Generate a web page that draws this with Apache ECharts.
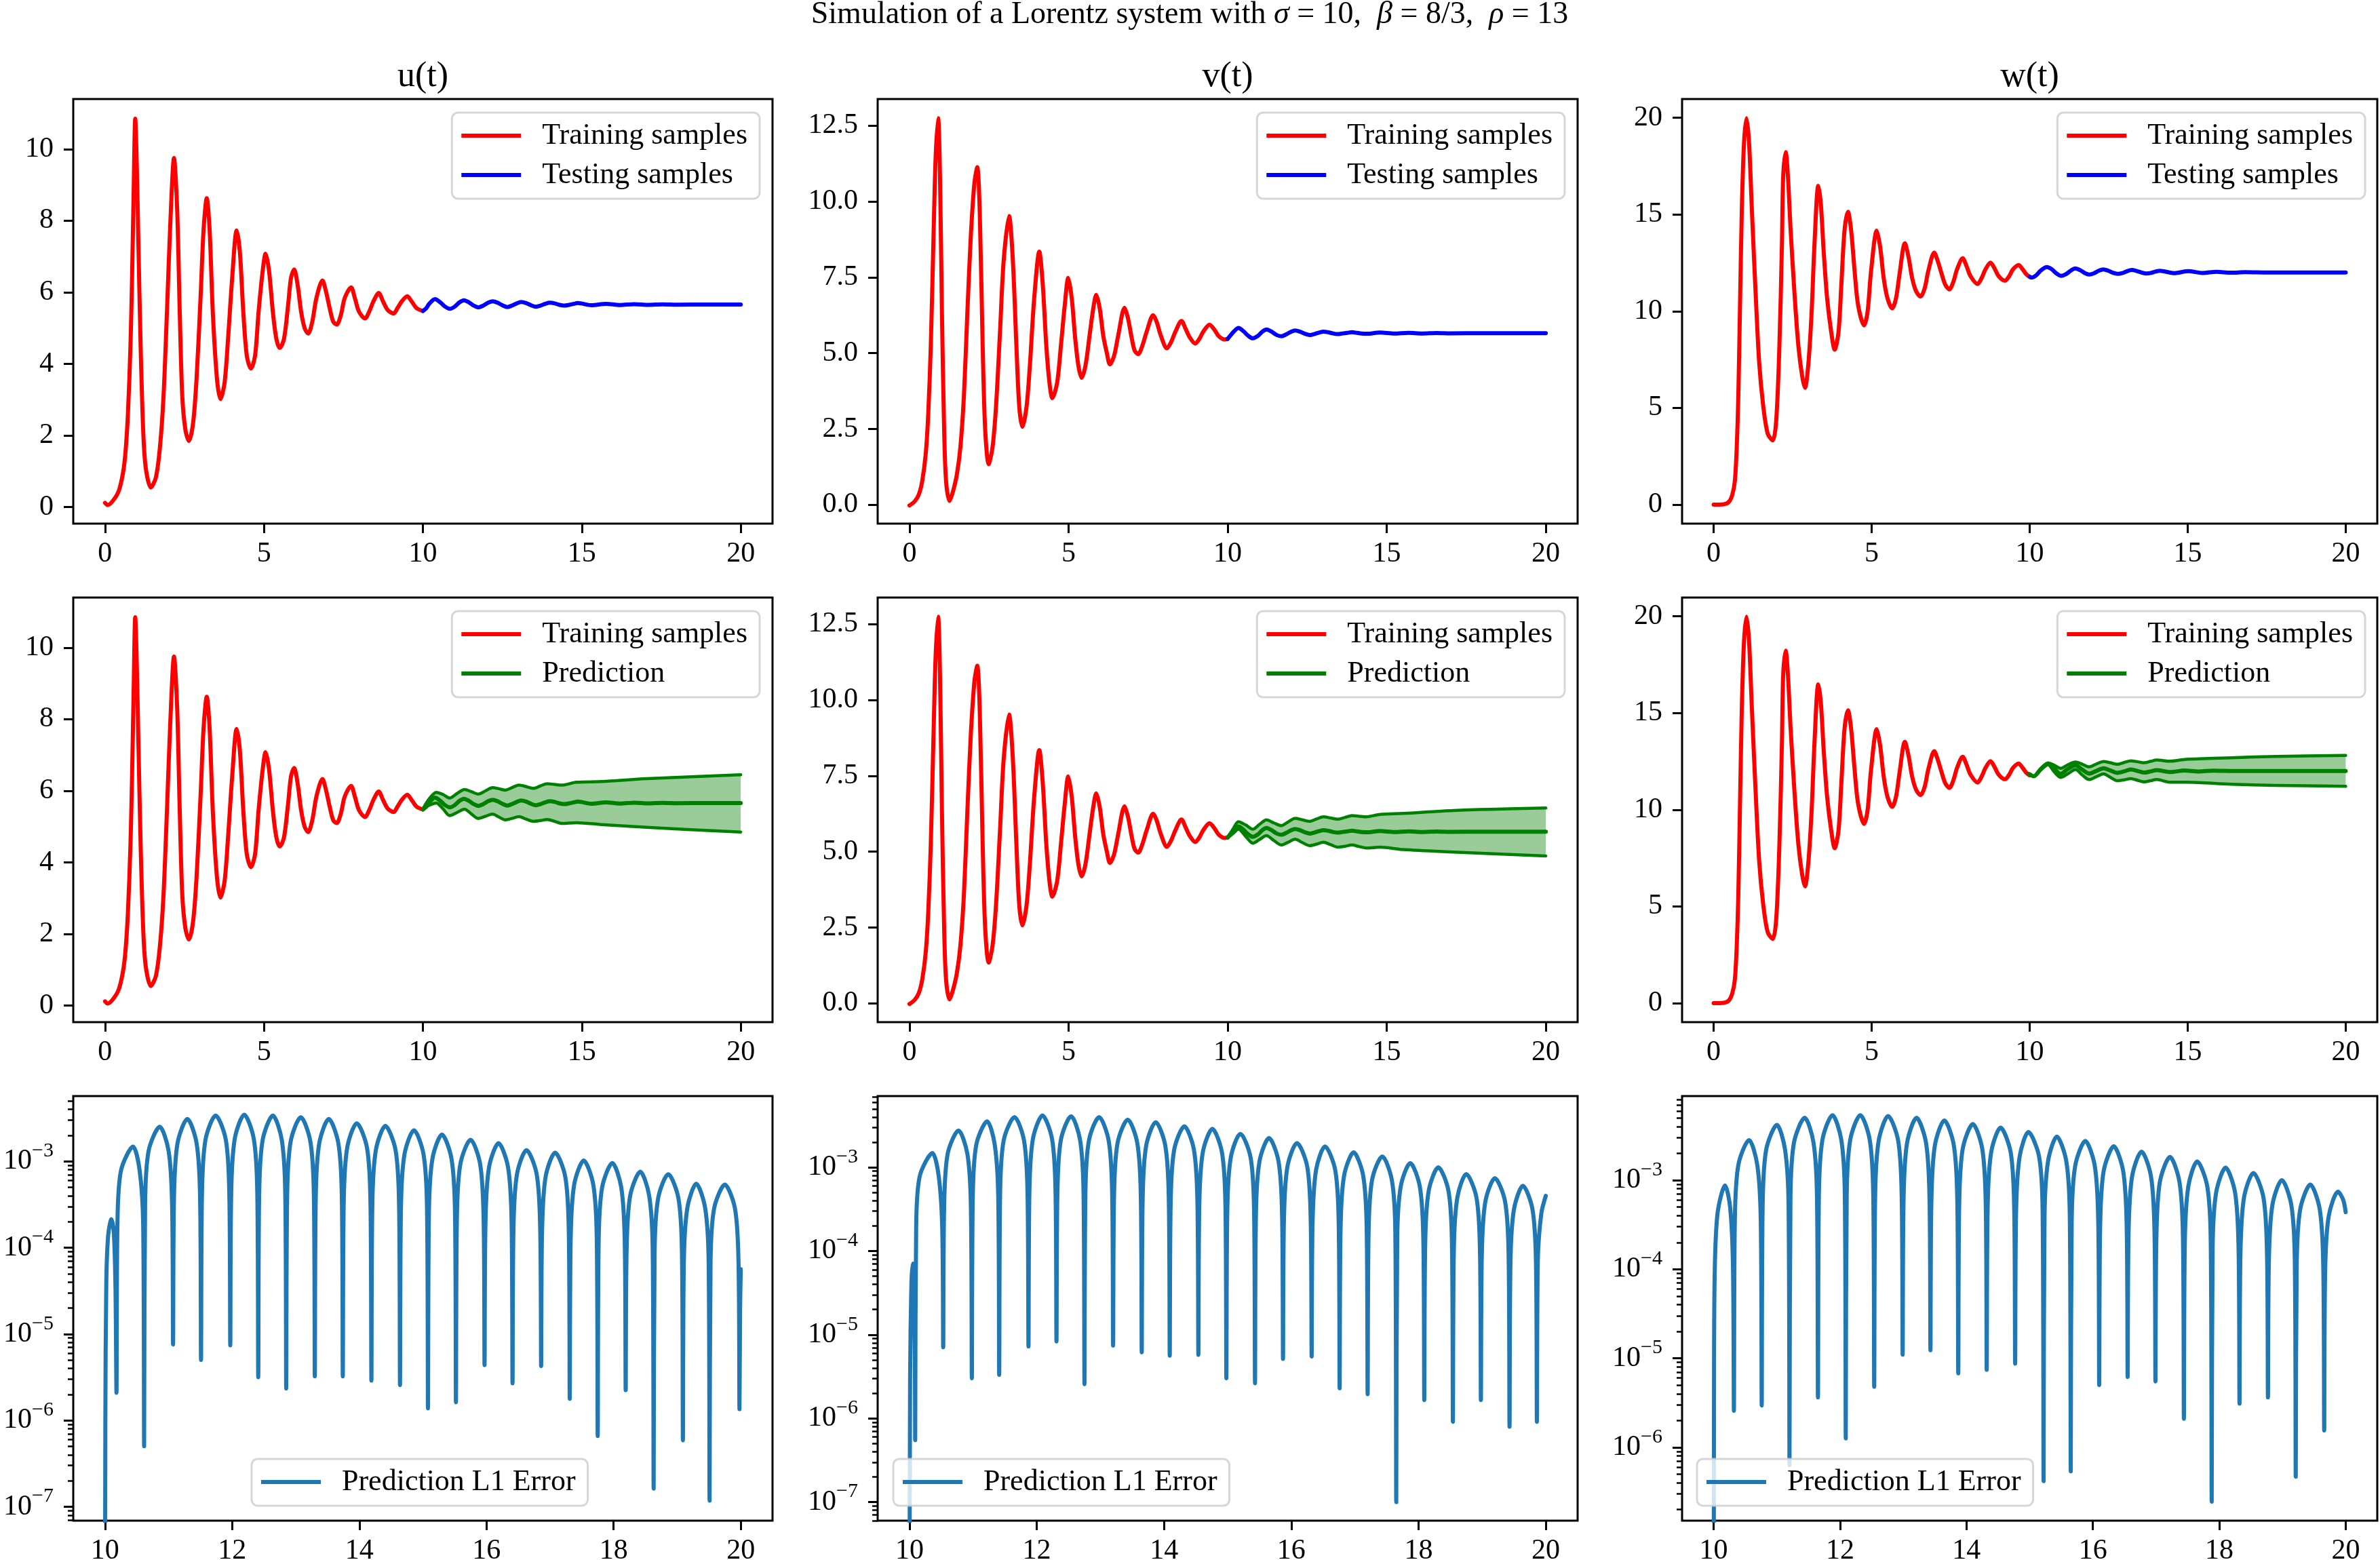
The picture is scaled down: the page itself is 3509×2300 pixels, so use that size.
<!DOCTYPE html>
<html>
<head>
<meta charset="utf-8">
<script src="https://cdn.jsdelivr.net/npm/echarts@6/dist/echarts.min.js"></script>
<style>
  html, body { margin: 0; padding: 0; background: #fff; }
  #main { width: 3509px; height: 2300px; }
</style>
</head>
<body>
<div id="main"></div>
<script>
// ---- data ----
// top / middle rows: [t, value]
var uTrain = [[0,0.12],[0.08,0.06],[0.24,0.17],[0.43,0.45],[0.56,0.93],[0.64,1.5],[0.72,2.6],[0.8,4.5],[0.85,6.4],[0.9,8.8],[0.95,10.85],[1.0,9.5],[1.05,7.35],[1.12,4.5],[1.2,2.15],[1.28,1.1],[1.44,0.55],[1.6,0.83],[1.73,1.7],[1.84,3.1],[1.95,5.5],[2.05,7.85],[2.17,9.75],[2.27,8.3],[2.35,5.45],[2.43,3.1],[2.53,2.15],[2.64,1.85],[2.77,2.35],[2.88,3.6],[3.01,5.95],[3.1,7.75],[3.2,8.63],[3.29,7.75],[3.39,5.45],[3.52,3.6],[3.63,3.02],[3.76,3.47],[3.87,4.7],[4.0,6.4],[4.14,7.73],[4.24,7.15],[4.35,5.45],[4.46,4.23],[4.59,3.87],[4.72,4.23],[4.83,5.45],[4.96,6.6],[5.05,7.08],[5.16,6.6],[5.28,5.45],[5.39,4.7],[5.5,4.45],[5.63,4.7],[5.76,5.65],[5.85,6.4],[5.95,6.64],[6.06,6.2],[6.17,5.45],[6.28,5.0],[6.39,4.85],[6.52,5.18],[6.65,5.84],[6.84,6.33],[6.95,6.03],[7.07,5.55],[7.18,5.18],[7.29,5.1],[7.42,5.37],[7.54,5.84],[7.74,6.14],[7.86,5.84],[7.99,5.46],[8.18,5.27],[8.31,5.46],[8.44,5.74],[8.61,5.98],[8.75,5.74],[8.89,5.51],[9.08,5.41],[9.2,5.56],[9.33,5.74],[9.51,5.89],[9.65,5.74],[9.8,5.56],[10.0,5.48]];
var uTest = [[10.0,5.48],[10.1,5.55],[10.2,5.68],[10.38,5.81],[10.55,5.72],[10.7,5.6],[10.85,5.54],[11.0,5.6],[11.15,5.72],[11.29,5.78],[11.45,5.72],[11.6,5.63],[11.75,5.58],[11.9,5.63],[12.05,5.71],[12.2,5.75],[12.35,5.71],[12.5,5.64],[12.66,5.59],[12.8,5.63],[12.95,5.69],[13.09,5.73],[13.25,5.7],[13.4,5.64],[13.56,5.6],[13.7,5.63],[13.85,5.68],[13.99,5.71],[14.15,5.69],[14.3,5.65],[14.44,5.63],[14.6,5.65],[14.75,5.68],[14.87,5.7],[15.3,5.64],[15.76,5.68],[16.2,5.645],[16.65,5.67],[17.1,5.65],[17.55,5.665],[18.0,5.655],[19.0,5.66],[20.0,5.66]];
var vTrain = [[0,-0.02],[0.16,0.11],[0.29,0.33],[0.4,0.78],[0.51,1.67],[0.59,3.0],[0.67,5.25],[0.75,8.6],[0.82,11.4],[0.9,12.75],[0.96,10.8],[1.02,6.36],[1.09,2.46],[1.15,0.78],[1.26,0.13],[1.37,0.45],[1.49,1.0],[1.6,1.9],[1.71,3.57],[1.82,6.36],[1.93,8.9],[2.04,10.6],[2.13,11.13],[2.21,9.6],[2.3,5.25],[2.38,2.46],[2.49,1.34],[2.61,1.9],[2.72,3.24],[2.85,5.8],[2.96,8.04],[3.13,9.52],[3.25,8.04],[3.36,5.25],[3.45,3.24],[3.55,2.57],[3.68,3.24],[3.79,4.69],[3.92,6.81],[4.08,8.35],[4.19,7.25],[4.3,5.25],[4.4,4.02],[4.49,3.52],[4.64,4.02],[4.76,5.25],[4.88,6.58],[4.99,7.48],[5.1,6.81],[5.21,5.47],[5.31,4.58],[5.41,4.19],[5.53,4.58],[5.66,5.58],[5.76,6.36],[5.87,6.92],[5.98,6.47],[6.09,5.58],[6.2,5.02],[6.3,4.63],[6.43,4.91],[6.56,5.58],[6.76,6.5],[6.87,6.14],[6.99,5.47],[7.08,5.08],[7.19,4.97],[7.32,5.25],[7.45,5.69],[7.66,6.25],[7.77,6.03],[7.9,5.58],[8.09,5.16],[8.22,5.36],[8.35,5.69],[8.55,6.06],[8.68,5.8],[8.81,5.52],[8.98,5.32],[9.11,5.47],[9.24,5.72],[9.43,5.94],[9.58,5.78],[9.72,5.56],[9.91,5.45],[10.0,5.47]];
var vTest = [[10.0,5.47],[10.1,5.6],[10.2,5.72],[10.34,5.83],[10.5,5.72],[10.65,5.57],[10.79,5.49],[10.95,5.57],[11.08,5.7],[11.22,5.78],[11.38,5.71],[11.54,5.6],[11.69,5.56],[11.84,5.62],[11.98,5.7],[12.12,5.75],[12.27,5.71],[12.43,5.64],[12.58,5.6],[12.72,5.63],[12.87,5.68],[13.01,5.71],[13.16,5.69],[13.31,5.65],[13.46,5.63],[13.61,5.65],[13.76,5.67],[13.91,5.69],[14.06,5.67],[14.21,5.65],[14.36,5.64],[14.79,5.68],[15.24,5.645],[15.68,5.67],[16.12,5.65],[16.57,5.665],[17.0,5.655],[18.0,5.66],[20.0,5.66]];
var wTrain = [[0,0],[0.32,0.02],[0.48,0.14],[0.59,0.52],[0.67,1.22],[0.73,2.97],[0.78,5.6],[0.83,9.97],[0.89,15.2],[0.96,18.7],[1.04,19.98],[1.12,18.7],[1.21,15.2],[1.33,10.85],[1.44,7.35],[1.57,5.07],[1.71,3.67],[1.87,3.32],[1.98,4.37],[2.08,8.22],[2.16,13.47],[2.2,16.97],[2.28,18.23],[2.35,16.97],[2.43,14.35],[2.56,10.85],[2.68,8.22],[2.8,6.65],[2.89,6.04],[3.0,7.35],[3.1,9.97],[3.19,13.47],[3.31,16.48],[3.39,15.57],[3.48,13.12],[3.59,10.67],[3.72,8.92],[3.83,8.01],[3.95,8.92],[4.04,11.37],[4.14,14.17],[4.25,15.14],[4.35,14.17],[4.46,12.07],[4.57,10.32],[4.76,9.27],[4.87,9.97],[4.98,12.07],[5.16,14.17],[5.27,13.3],[5.38,11.72],[5.5,10.67],[5.65,10.15],[5.77,10.67],[5.88,11.9],[6.05,13.51],[6.17,12.77],[6.28,11.72],[6.41,11.02],[6.55,10.76],[6.68,11.2],[6.79,12.07],[6.98,13.03],[7.09,12.6],[7.22,11.9],[7.33,11.37],[7.46,11.13],[7.59,11.55],[7.7,12.16],[7.88,12.74],[8.0,12.34],[8.13,11.81],[8.35,11.41],[8.48,11.72],[8.6,12.16],[8.76,12.51],[8.89,12.21],[9.02,11.81],[9.22,11.58],[9.35,11.81],[9.47,12.16],[9.65,12.39],[9.78,12.16],[9.9,11.9],[10.0,11.78]];
var wTest = [[10.0,11.78],[10.06,11.74],[10.2,11.85],[10.35,12.1],[10.54,12.28],[10.7,12.17],[10.85,11.95],[10.99,11.83],[11.15,11.92],[11.3,12.1],[11.44,12.21],[11.6,12.12],[11.75,11.97],[11.88,11.9],[12.03,11.96],[12.18,12.09],[12.33,12.16],[12.48,12.1],[12.63,11.99],[12.78,11.93],[12.93,11.97],[13.08,12.07],[13.23,12.13],[13.39,12.08],[13.54,12.0],[13.69,11.95],[13.84,11.98],[13.98,12.05],[14.12,12.09],[14.58,11.97],[15.02,12.07],[15.47,11.98],[15.92,12.04],[16.37,11.99],[16.82,12.02],[17.5,12.0],[20.0,12.0]];
var wPred = [[9.98,11.85],[10.13,11.73],[10.35,12.1],[10.58,12.37],[10.78,12.12],[10.98,11.85],[11.2,12.1],[11.45,12.3],[11.66,12.08],[11.88,11.87],[12.1,12.0],[12.34,12.14],[12.55,12.03],[12.77,11.91],[13.0,11.99],[13.2,12.08],[13.42,12.0],[13.63,11.92],[13.82,11.98],[14.02,12.05],[14.45,11.95],[14.9,12.03],[15.35,11.98],[15.8,12.02],[16.5,12.0],[20.0,12.0]];

// uncertainty bands (middle row)
var uBandT = [10.0,10.2,10.42,10.63,10.84,11.08,11.31,11.52,11.74,11.97,12.19,12.39,12.59,12.8,13.02,13.25,13.48,13.7,13.91,14.14,14.37,14.83,15.62,17.04,20.0];
var uBandHi = [5.5,5.78,5.96,5.9,5.80,5.93,6.04,5.98,5.91,6.0,6.09,6.06,6.02,6.09,6.16,6.12,6.07,6.14,6.2,6.18,6.16,6.24,6.26,6.34,6.45];
var uBandLo = [5.5,5.6,5.66,5.5,5.31,5.4,5.49,5.36,5.23,5.29,5.35,5.27,5.19,5.23,5.28,5.21,5.15,5.17,5.2,5.15,5.09,5.11,5.06,4.98,4.85];
var vBandT = [10.0,10.17,10.34,10.57,10.79,11.0,11.22,11.45,11.69,11.9,12.12,12.35,12.58,12.8,13.01,13.24,13.46,13.69,13.91,14.13,14.36,14.79,15.51,17.1,20.0];
var vBandHi = [5.45,5.75,5.99,5.88,5.74,5.9,6.05,5.95,5.86,5.98,6.1,6.05,6.0,6.08,6.15,6.11,6.07,6.13,6.19,6.17,6.15,6.23,6.26,6.36,6.44];
var vBandLo = [5.45,5.6,5.74,5.5,5.28,5.4,5.53,5.37,5.22,5.31,5.41,5.3,5.2,5.25,5.31,5.23,5.15,5.18,5.22,5.17,5.12,5.15,5.07,4.99,4.86];
var wBandT = [9.98,10.13,10.35,10.58,10.78,10.98,11.2,11.45,11.66,11.88,12.1,12.34,12.55,12.77,13.0,13.2,13.42,13.63,13.82,14.02,14.45,14.95,16.38,17.82,20.0];
var wBandHi = [11.85,11.74,12.12,12.42,12.3,12.14,12.32,12.47,12.36,12.22,12.36,12.49,12.43,12.35,12.45,12.53,12.48,12.43,12.5,12.57,12.51,12.61,12.69,12.76,12.81];
var wBandLo = [11.85,11.72,12.05,12.33,11.95,11.67,11.85,12.08,11.8,11.56,11.7,11.85,11.68,11.5,11.55,11.61,11.52,11.44,11.5,11.56,11.42,11.42,11.32,11.26,11.21];

// bottom row: [t, log10(L1 error)]
var errU = [[10.0,-9],[10.005,-6.0],[10.02,-4.4],[10.05,-3.85],[10.1,-3.67],[10.14,-3.85],[10.165,-4.5],[10.18,-5.68],
  [10.195,-3.73],[10.25,-3.11],[10.44,-2.83],[10.545,-3.11],[10.6,-3.73],[10.615,-6.30],
  [10.63,-3.50],[10.685,-2.88],[10.86,-2.60],[11.0,-2.88],[11.055,-3.50],[11.07,-5.12],
  [11.085,-3.41],[11.14,-2.79],[11.295,-2.51],[11.44,-2.79],[11.495,-3.41],[11.51,-5.30],
  [11.525,-3.37],[11.58,-2.75],[11.74,-2.47],[11.9,-2.75],[11.955,-3.37],[11.97,-5.13],
  [11.985,-3.36],[12.04,-2.74],[12.19,-2.46],[12.34,-2.74],[12.395,-3.36],[12.41,-5.50],
  [12.425,-3.37],[12.48,-2.75],[12.64,-2.47],[12.78,-2.75],[12.835,-3.37],[12.85,-5.63],
  [12.865,-3.39],[12.92,-2.77],[13.08,-2.49],[13.23,-2.77],[13.285,-3.39],[13.30,-5.49],
  [13.315,-3.41],[13.37,-2.79],[13.52,-2.51],[13.67,-2.79],[13.725,-3.41],[13.74,-5.49],
  [13.755,-3.46],[13.81,-2.84],[13.96,-2.56],[14.12,-2.84],[14.175,-3.46],[14.19,-5.54],
  [14.205,-3.49],[14.26,-2.87],[14.41,-2.59],[14.57,-2.87],[14.625,-3.49],[14.64,-5.59],
  [14.655,-3.54],[14.71,-2.92],[14.86,-2.64],[15.01,-2.92],[15.065,-3.54],[15.08,-5.86],
  [15.095,-3.59],[15.15,-2.97],[15.30,-2.69],[15.45,-2.97],[15.505,-3.59],[15.52,-5.79],
  [15.535,-3.65],[15.59,-3.03],[15.75,-2.75],[15.90,-3.03],[15.955,-3.65],[15.97,-5.36],
  [15.985,-3.69],[16.04,-3.07],[16.19,-2.79],[16.34,-3.07],[16.395,-3.69],[16.41,-5.57],
  [16.425,-3.77],[16.48,-3.15],[16.63,-2.87],[16.79,-3.15],[16.845,-3.77],[16.86,-5.37],
  [16.875,-3.80],[16.93,-3.18],[17.08,-2.90],[17.24,-3.18],[17.295,-3.80],[17.31,-5.75],
  [17.325,-3.89],[17.38,-3.27],[17.53,-2.99],[17.68,-3.27],[17.735,-3.89],[17.75,-6.18],
  [17.765,-3.92],[17.82,-3.30],[17.98,-3.02],[18.12,-3.30],[18.175,-3.92],[18.19,-5.65],
  [18.205,-4.02],[18.26,-3.40],[18.42,-3.12],[18.56,-3.40],[18.615,-4.02],[18.63,-6.79],
  [18.645,-4.05],[18.70,-3.43],[18.86,-3.15],[19.02,-3.43],[19.075,-4.05],[19.09,-6.23],
  [19.105,-4.16],[19.16,-3.54],[19.30,-3.26],[19.44,-3.54],[19.495,-4.16],[19.51,-6.93],
  [19.525,-4.17],[19.58,-3.55],[19.75,-3.27],[19.91,-3.55],[19.965,-4.17],[19.98,-5.87],
  [19.99,-4.7],[20.0,-4.25]];
var errV = [[10.0,-9],[10.01,-5.5],[10.03,-4.4],[10.05,-4.15],[10.07,-4.5],[10.085,-5.3],[10.09,-6.26],
  [10.105,-3.73],[10.16,-3.11],[10.36,-2.83],[10.46,-3.11],[10.515,-3.73],[10.53,-5.15],
  [10.545,-3.46],[10.60,-2.84],[10.77,-2.56],[10.91,-2.84],[10.965,-3.46],[10.98,-5.52],
  [10.995,-3.35],[11.05,-2.73],[11.22,-2.45],[11.34,-2.73],[11.395,-3.35],[11.41,-5.48],
  [11.425,-3.30],[11.48,-2.68],[11.65,-2.40],[11.80,-2.68],[11.855,-3.30],[11.87,-5.14],
  [11.885,-3.28],[11.94,-2.66],[12.09,-2.38],[12.24,-2.66],[12.295,-3.28],[12.31,-5.08],
  [12.325,-3.29],[12.38,-2.67],[12.54,-2.39],[12.68,-2.67],[12.735,-3.29],[12.75,-5.59],
  [12.765,-3.30],[12.82,-2.68],[12.98,-2.40],[13.13,-2.68],[13.185,-3.30],[13.20,-5.13],
  [13.215,-3.33],[13.27,-2.71],[13.43,-2.43],[13.58,-2.71],[13.635,-3.33],[13.65,-5.21],
  [13.665,-3.36],[13.72,-2.74],[13.87,-2.46],[14.02,-2.74],[14.075,-3.36],[14.09,-5.25],
  [14.105,-3.41],[14.16,-2.79],[14.32,-2.51],[14.47,-2.79],[14.525,-3.41],[14.54,-5.24],
  [14.555,-3.44],[14.61,-2.82],[14.76,-2.54],[14.91,-2.82],[14.965,-3.44],[14.98,-5.52],
  [14.995,-3.50],[15.05,-2.88],[15.20,-2.60],[15.36,-2.88],[15.415,-3.50],[15.43,-5.58],
  [15.445,-3.55],[15.50,-2.93],[15.65,-2.65],[15.80,-2.93],[15.855,-3.55],[15.87,-5.29],
  [15.885,-3.61],[15.94,-2.99],[16.09,-2.71],[16.25,-2.99],[16.305,-3.61],[16.32,-5.26],
  [16.335,-3.65],[16.39,-3.03],[16.53,-2.75],[16.69,-3.03],[16.745,-3.65],[16.76,-5.64],
  [16.775,-3.72],[16.83,-3.10],[16.98,-2.82],[17.13,-3.10],[17.185,-3.72],[17.20,-5.71],
  [17.215,-3.77],[17.27,-3.15],[17.43,-2.87],[17.58,-3.15],[17.635,-3.77],[17.65,-7.0],
  [17.665,-3.85],[17.72,-3.23],[17.87,-2.95],[18.02,-3.23],[18.075,-3.85],[18.09,-5.78],
  [18.105,-3.90],[18.16,-3.28],[18.31,-3.00],[18.47,-3.28],[18.525,-3.90],[18.54,-6.04],
  [18.555,-3.98],[18.61,-3.36],[18.75,-3.08],[18.91,-3.36],[18.965,-3.98],[18.98,-5.78],
  [18.995,-4.03],[19.05,-3.41],[19.20,-3.13],[19.36,-3.41],[19.415,-4.03],[19.43,-6.10],
  [19.445,-4.12],[19.50,-3.50],[19.64,-3.22],[19.79,-3.50],[19.845,-4.12],[19.86,-6.04],
  [19.875,-4.1],[19.93,-3.55],[20.0,-3.34]];
var errW = [[10.0,-9],[10.005,-5.5],[10.015,-4.1],[10.06,-3.38],[10.18,-3.06],[10.26,-3.3],[10.305,-3.95],[10.32,-5.59],
  [10.335,-3.45],[10.39,-2.83],[10.56,-2.55],[10.69,-2.83],[10.745,-3.45],[10.76,-5.53],
  [10.775,-3.28],[10.83,-2.66],[11.00,-2.38],[11.13,-2.66],[11.185,-3.28],[11.20,-6.2],
  [11.215,-3.20],[11.27,-2.58],[11.44,-2.30],[11.58,-2.58],[11.635,-3.20],[11.65,-5.44],
  [11.665,-3.17],[11.72,-2.55],[11.88,-2.27],[12.02,-2.55],[12.075,-3.17],[12.09,-5.90],
  [12.105,-3.17],[12.16,-2.55],[12.32,-2.27],[12.47,-2.55],[12.525,-3.17],[12.54,-5.32],
  [12.555,-3.18],[12.61,-2.56],[12.76,-2.28],[12.92,-2.56],[12.975,-3.18],[12.99,-4.96],
  [13.005,-3.20],[13.06,-2.58],[13.21,-2.30],[13.36,-2.58],[13.415,-3.20],[13.43,-4.91],
  [13.445,-3.23],[13.50,-2.61],[13.65,-2.33],[13.80,-2.61],[13.855,-3.23],[13.87,-5.17],
  [13.885,-3.27],[13.94,-2.65],[14.10,-2.37],[14.25,-2.65],[14.305,-3.27],[14.32,-5.13],
  [14.335,-3.31],[14.39,-2.69],[14.54,-2.41],[14.70,-2.69],[14.755,-3.31],[14.77,-5.06],
  [14.785,-3.36],[14.84,-2.74],[14.98,-2.46],[15.15,-2.74],[15.205,-3.36],[15.22,-6.38],
  [15.235,-3.41],[15.29,-2.79],[15.43,-2.51],[15.58,-2.79],[15.635,-3.41],[15.65,-6.27],
  [15.665,-3.46],[15.72,-2.84],[15.88,-2.56],[16.03,-2.84],[16.085,-3.46],[16.10,-5.30],
  [16.115,-3.52],[16.17,-2.90],[16.33,-2.62],[16.48,-2.90],[16.535,-3.52],[16.55,-5.21],
  [16.565,-3.58],[16.62,-2.96],[16.77,-2.68],[16.92,-2.96],[16.975,-3.58],[16.99,-5.26],
  [17.005,-3.64],[17.06,-3.02],[17.22,-2.74],[17.37,-3.02],[17.425,-3.64],[17.44,-5.68],
  [17.455,-3.69],[17.51,-3.07],[17.65,-2.79],[17.81,-3.07],[17.865,-3.69],[17.88,-6.61],
  [17.895,-3.76],[17.95,-3.14],[18.10,-2.86],[18.25,-3.14],[18.305,-3.76],[18.32,-5.51],
  [18.335,-3.82],[18.39,-3.20],[18.54,-2.92],[18.70,-3.20],[18.755,-3.82],[18.77,-5.44],
  [18.785,-3.90],[18.84,-3.28],[18.99,-3.00],[19.14,-3.28],[19.195,-3.90],[19.21,-6.33],
  [19.225,-3.95],[19.28,-3.33],[19.44,-3.05],[19.59,-3.33],[19.645,-3.95],[19.66,-5.81],
  [19.675,-4.03],[19.73,-3.41],[19.88,-3.13],[19.96,-3.22],[20.0,-3.36]];

// ticks
var xTicks = [0, 5, 10, 15, 20];
var xTicksErr = [10, 12, 14, 16, 18, 20];
var yTicksU = [0, 2, 4, 6, 8, 10];
var yTicksV = [0, 2.5, 5, 7.5, 10, 12.5];
var yTicksW = [0, 5, 10, 15, 20];
var logMajor = [1e-7, 1e-6, 1e-5, 1e-4, 1e-3];
var logMinor = [2e-8,3e-8,4e-8,5e-8,6e-8,7e-8,8e-8,9e-8,2e-7,3e-7,4e-7,5e-7,6e-7,7e-7,8e-7,9e-7,
  2e-6,3e-6,4e-6,5e-6,6e-6,7e-6,8e-6,9e-6,2e-5,3e-5,4e-5,5e-5,6e-5,7e-5,8e-5,9e-5,
  2e-4,3e-4,4e-4,5e-4,6e-4,7e-4,8e-4,9e-4,2e-3,3e-3,4e-3,5e-3,6e-3,7e-3,8e-3,9e-3];

// ---- layout ----
var FONT = '"Liberation Serif", "Times New Roman", serif';
var GRID_LEFT = [108, 1294, 2480];
var GRID_WIDTH = [1031, 1032, 1025];
var GRID_TOP = [146, 881, 1616];
var GRID_HEIGHT = 626;
var Y_RANGE = [[-0.46, 11.40], [-0.62, 13.38], [-0.98, 20.97]];
var LOG_RANGE = [[6.9e-8, 5.7e-3], [6.0e-8, 7.1e-3], [1.5e-7, 8.8e-3]];
var Y_TICKS = [yTicksU, yTicksV, yTicksW];
var Y_FMT = [function (v) { return String(v); }, function (v) { return v.toFixed(1); }, function (v) { return String(v); }];

var RED = '#ff0000', BLUE = '#0000ff', GREEN = '#008000', ERR = '#1f77b4';

var chart = echarts.init(document.getElementById('main'), null, { renderer: 'canvas' });

var grids = [], xAxes = [], yAxes = [], series = [], legends = [], texts = [];

function tickStyle(len, w) {
  return { show: true, inside: false, length: len, lineStyle: { color: '#000', width: w } };
}

for (var r = 0; r < 3; r++) {
  for (var c = 0; c < 3; c++) {
    var g = r * 3 + c;
    grids.push({
      left: GRID_LEFT[c], top: GRID_TOP[r], width: GRID_WIDTH[c], height: GRID_HEIGHT,
      show: true, borderColor: '#000', borderWidth: 3, backgroundColor: 'transparent',
      containLabel: false, outerBoundsMode: 'none'
    });
    var xt = r < 2 ? xTicks : xTicksErr;
    xAxes.push({
      type: 'value', gridIndex: g,
      min: r < 2 ? -1 : 9.5, max: r < 2 ? 21 : 20.5,
      axisLine: { show: false, onZero: false },
      axisTick: Object.assign(tickStyle(14, 3), { customValues: xt }),
      axisLabel: { customValues: xt, margin: 24, color: '#000', fontFamily: FONT, fontSize: 42,
        formatter: function (v) { return String(v); } },
      splitLine: { show: false }
    });
    if (r < 2) {
      yAxes.push({
        type: 'value', gridIndex: g, min: Y_RANGE[c][0], max: Y_RANGE[c][1],
        axisLine: { show: false, onZero: false },
        axisTick: Object.assign(tickStyle(14, 3), { customValues: Y_TICKS[c] }),
        axisLabel: { customValues: Y_TICKS[c], margin: 29, color: '#000', fontFamily: FONT, fontSize: 42,
          formatter: Y_FMT[c] },
        splitLine: { show: false }
      });
    } else {
      var lr = LOG_RANGE[c];
      var major = logMajor.filter(function (v) { return v >= lr[0] && v <= lr[1]; });
      yAxes.push({
        type: 'log', logBase: 10, gridIndex: g, min: lr[0], max: lr[1],
        axisLine: { show: false, onZero: false },
        axisTick: Object.assign(tickStyle(14, 3), { customValues: major }),
        axisLabel: {
          customValues: major, margin: 29, color: '#000', fontFamily: FONT, fontSize: 42, lineHeight: 60,
          formatter: function (v) {
            var e = Math.round(Math.log10(v));
            if (Math.abs(Math.log10(v) - e) > 1e-6) return '';
            return '10{s|\u2212' + Math.abs(e) + '}';
          },
          rich: { s: { fontSize: 30, fontFamily: FONT, color: '#000', verticalAlign: 'top', lineHeight: 30 } }
        },
        splitLine: { show: false }
      });
    }
  }
}
// minor ticks on the log axes
for (var c2 = 0; c2 < 3; c2++) {
  var lr2 = LOG_RANGE[c2];
  var minor = logMinor.filter(function (v) { return v >= lr2[0] && v <= lr2[1]; });
  yAxes.push({
    type: 'log', logBase: 10, gridIndex: 6 + c2, min: lr2[0], max: lr2[1], position: 'left', offset: 0,
    axisLine: { show: false, onZero: false },
    axisTick: Object.assign(tickStyle(8, 2.5), { customValues: minor }),
    axisLabel: { show: false },
    splitLine: { show: false }
  });
}

function lineSeries(name, g, data, color, width, smooth, z) {
  return {
    name: name, type: 'line', xAxisIndex: g, yAxisIndex: g, data: data,
    color: color, showSymbol: false, symbol: 'none', smooth: smooth, z: z,
    lineStyle: { color: color, width: width, cap: 'round', join: 'round' },
    emphasis: { disabled: true }, silent: true, animation: false
  };
}

function zip(t, v) { return t.map(function (x, i) { return [x, v[i]]; }); }

function bandRender(T, HI, LO) {
  return function (params, api) {
    if (params.dataIndex !== 0) return;
    var pts = [];
    for (var i = 0; i < T.length; i++) pts.push(api.coord([T[i], HI[i]]));
    for (var j = T.length - 1; j >= 0; j--) pts.push(api.coord([T[j], LO[j]]));
    return { type: 'polygon', shape: { points: pts }, style: { fill: 'rgba(0,128,0,0.4)', stroke: null } };
  };
}

var trains = [uTrain, vTrain, wTrain];
var tests = [uTest, vTest, wTest];
var preds = [uTest, vTest, wPred];
var bandT = [uBandT, vBandT, wBandT];
var bandHi = [uBandHi, vBandHi, wBandHi];
var bandLo = [uBandLo, vBandLo, wBandLo];
var errs = [errU, errV, errW];

for (var k = 0; k < 3; k++) {
  // top row
  series.push(lineSeries('Training samples', k, trains[k], RED, 6, 0.3, 3));
  series.push(lineSeries('Testing samples', k, tests[k], BLUE, 6, 0.3, 3));
  // middle row
  var gm = 3 + k;
  series.push({
    type: 'custom', xAxisIndex: gm, yAxisIndex: gm, silent: true, z: 1,
    data: [[bandT[k][0], bandLo[k][0]]],
    renderItem: bandRender(bandT[k], bandHi[k], bandLo[k]), animation: false
  });
  series.push(lineSeries('upper', gm, zip(bandT[k], bandHi[k]), GREEN, 4.5, 0.3, 2));
  series.push(lineSeries('lower', gm, zip(bandT[k], bandLo[k]), GREEN, 4.5, 0.3, 2));
  series.push(lineSeries('Training samples', gm, trains[k], RED, 6, 0.3, 3));
  series.push(lineSeries('Prediction', gm, preds[k], GREEN, 6, 0.3, 3));
  // bottom row
  series.push(lineSeries('Prediction L1 Error', 6 + k,
    errs[k].map(function (p) { return [p[0], Math.pow(10, p[1])]; }), ERR, 6, 0.3, 3));
}

var legendBase = {
  orient: 'vertical', align: 'left', icon: 'rect', itemWidth: 88, itemHeight: 6, itemGap: 14,
  padding: [12, 18, 13, 14], backgroundColor: 'rgba(255,255,255,0.8)',
  borderColor: 'rgba(204,204,204,0.8)', borderWidth: 3, borderRadius: 9, selectedMode: false,
  textStyle: { fontFamily: FONT, fontSize: 44, color: '#000', lineHeight: 44, padding: [0, 0, 0, 26] }
};
var legendRight = [1120, 2307, 3487];
for (var q = 0; q < 3; q++) {
  legends.push(Object.assign({}, legendBase, { data: ['Training samples', 'Testing samples'], right: 3509 - legendRight[q], top: 166 }));
  legends.push(Object.assign({}, legendBase, { data: ['Training samples', 'Prediction'], right: 3509 - legendRight[q], top: 901 }));
}
var errLegendLeft = [371, 1317, 2502];
for (var q2 = 0; q2 < 3; q2++) {
  legends.push(Object.assign({}, legendBase, { data: ['Prediction L1 Error'], left: errLegendLeft[q2], top: 2151 }));
}

texts.push({
  type: 'text', x: 1754, y: 22,
  style: {
    text: 'Simulation of a Lorentz system with {i|\u03c3} = 10,  {i|\u03b2} = 8/3,  {i|\u03c1} = 13',
    fontFamily: FONT, fontSize: 46, fill: '#000', align: 'center', verticalAlign: 'middle',
    textAlign: 'center', textVerticalAlign: 'middle',
    rich: { i: { fontFamily: FONT, fontSize: 46, fontStyle: 'italic' } }
  }
});
var colTitles = ['u(t)', 'v(t)', 'w(t)'];
for (var t = 0; t < 3; t++) {
  texts.push({
    type: 'text', x: GRID_LEFT[t] + GRID_WIDTH[t] / 2, y: 113,
    style: { text: colTitles[t], fontFamily: FONT, fontSize: 52, fill: '#000',
      align: 'center', verticalAlign: 'middle', textAlign: 'center', textVerticalAlign: 'middle' }
  });
}

chart.setOption({
  animation: false,
  backgroundColor: '#ffffff',
  grid: grids,
  xAxis: xAxes,
  yAxis: yAxes,
  legend: legends,
  graphic: texts,
  series: series
});
</script>
</body>
</html>
